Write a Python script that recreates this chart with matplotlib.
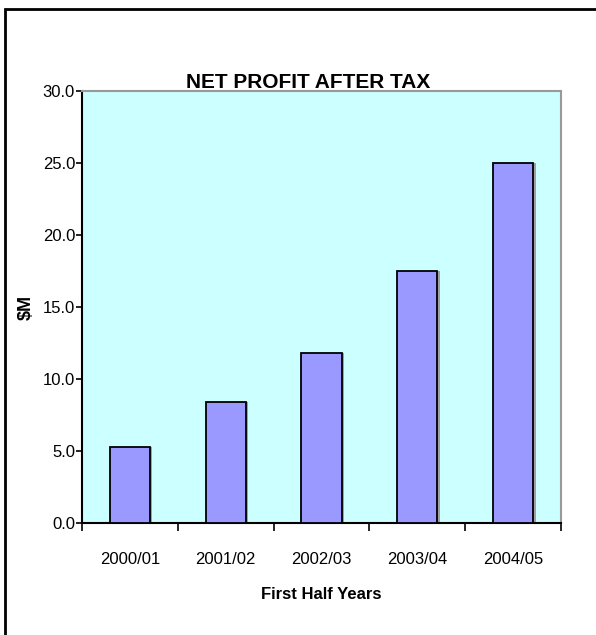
import matplotlib.pyplot as plt
from matplotlib.patches import Rectangle
import numpy as np

plt.rcParams['font.family'] = ['Liberation Sans Narrow', 'Liberation Sans', 'DejaVu Sans']

years = ["2000/01", "2001/02", "2002/03", "2003/04", "2004/05"]
profit = [5.3, 8.4, 11.8, 17.5, 25.0]
y_ticks = [0, 5, 10, 15, 20, 25, 30]

fig = plt.figure(figsize=(5.96, 6.35), dpi=100)
fig.patch.set_facecolor('white')

# outer chart frame (only left and top edges are visible in the picture)
fig.add_artist(Rectangle((5 / 596, -0.1), 1.2, 1 - 9 / 635 + 0.1, transform=fig.transFigure,
                         fill=False, edgecolor='black', linewidth=2))

ax = fig.add_axes([82 / 596, 1 - 523 / 635, (561 - 82) / 596, (523 - 91) / 635])
ax.set_facecolor('#CCFFFF')

x = np.arange(len(years))
# slight shadow behind bars
ax.bar(x + 0.025, profit, width=0.42, color='#A0A0A0', edgecolor='none', zorder=2)
ax.bar(x, profit, width=0.42, color='#9999FF', edgecolor='black', linewidth=1.3, zorder=3)

ax.set_xlim(-0.5, len(years) - 0.5)
ax.set_ylim(0, 30)
ax.set_yticks(y_ticks)
ax.set_yticklabels([f"{v:.1f}" for v in y_ticks], fontsize=12)
ax.set_xticks(np.arange(len(years) + 1) - 0.5)
ax.set_xticklabels([])
ax.set_xticks(x, minor=True)
ax.set_xticklabels(years, minor=True, fontsize=12)
ax.tick_params(axis='x', which='minor', length=0, pad=21)
ax.tick_params(axis='x', which='major', direction='out', length=6, width=1.2)
ax.tick_params(axis='y', direction='out', length=4, width=1.2, pad=1)

for s in ['left', 'bottom']:
    ax.spines[s].set_color('black')
    ax.spines[s].set_linewidth(1.5)
for s in ['top', 'right']:
    ax.spines[s].set_color('#999999')
    ax.spines[s].set_linewidth(1.5)

ax.set_xlabel("First Half Years", fontsize=12, fontweight='bold', labelpad=14)
ax.set_ylabel("$M", fontsize=13, fontweight='bold')
ax.yaxis.set_label_coords(-0.098, 0.5)

fig.text(308 / 596, 1 - 83 / 635, "NET PROFIT AFTER TAX", ha='center', va='center',
         fontsize=15, fontweight='bold')

fig.savefig("out.png", dpi=100)
